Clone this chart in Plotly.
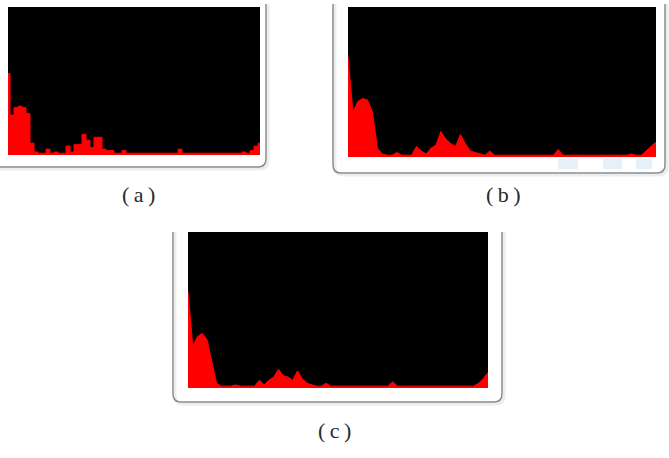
import plotly.graph_objects as go

N_BINS = 64
bins = list(range(N_BINS))

# Histogram heights (fraction of panel height)
base = 0.012

def series(peaks):
    vals = [base] * N_BINS
    for k, v in peaks.items():
        vals[k] = v
    return vals

hist_a = series({0: 0.55, 1: 0.27, 2: 0.32, 3: 0.33, 4: 0.32, 5: 0.28, 6: 0.08, 7: 0.02,
                 10: 0.04, 12: 0.02, 15: 0.06, 16: 0.02, 17: 0.07, 18: 0.07, 19: 0.14,
                 20: 0.10, 21: 0.05, 22: 0.12, 23: 0.12, 24: 0.04, 25: 0.03, 26: 0.03,
                 29: 0.03, 43: 0.04, 59: 0.02, 61: 0.03, 62: 0.06, 63: 0.08})

hist_b = series({0: 0.67, 1: 0.30, 2: 0.37, 3: 0.39, 4: 0.38, 5: 0.30, 6: 0.06, 7: 0.02,
                 10: 0.03, 14: 0.07, 15: 0.04, 16: 0.02, 17: 0.06, 18: 0.08, 19: 0.17,
                 20: 0.12, 21: 0.09, 22: 0.07, 23: 0.15, 24: 0.09, 25: 0.04, 26: 0.03,
                 27: 0.02, 29: 0.04, 43: 0.05, 58: 0.02, 61: 0.04, 62: 0.07, 63: 0.10})

hist_c = series({0: 0.62, 1: 0.27, 2: 0.33, 3: 0.35, 4: 0.31, 5: 0.18, 6: 0.03, 7: 0.012,
                 10: 0.02, 15: 0.05, 16: 0.02, 17: 0.05, 18: 0.07, 19: 0.12, 20: 0.08,
                 21: 0.07, 22: 0.05, 23: 0.11, 24: 0.06, 25: 0.03, 26: 0.02, 29: 0.03,
                 43: 0.04, 58: 0.012, 61: 0.03, 62: 0.06, 63: 0.10})

panel_labels = ["(\u2009a\u2009)", "(\u2009b\u2009)", "(\u2009c\u2009)"]

W, H = 669, 458

def fx(px):
    return px / W

def fy(py):
    return 1 - py / H

# panel placement in pixels: (x0, x1, ytop, ybottom)
panels = [(8, 260, 7, 155), (348, 656, 7, 157), (188, 488, 232, 388)]
data = [hist_a, hist_b, hist_c]
shapes_line = ["hvh", "linear", "linear"]

fig = go.Figure()
layout = dict(width=W, height=H, margin=dict(l=0, r=0, t=0, b=0),
              paper_bgcolor="white", plot_bgcolor="black", showlegend=False)

for i, ((x0, x1, yt, yb), vals) in enumerate(zip(panels, data)):
    n = "" if i == 0 else str(i + 1)
    fig.add_trace(go.Scatter(x=bins, y=vals, mode="lines", fill="tozeroy",
                             line=dict(color="#ff0000", width=1, shape=shapes_line[i]),
                             fillcolor="#ff0000", xaxis="x" + n, yaxis="y" + n,
                             hoverinfo="skip"))
    layout["xaxis" + n] = dict(domain=[fx(x0), fx(x1)], range=[0, N_BINS - 1],
                               showgrid=False, zeroline=False, showticklabels=False,
                               ticks="", anchor="y" + n, fixedrange=True)
    layout["yaxis" + n] = dict(domain=[fy(yb), fy(yt)], range=[0, 1],
                               showgrid=False, zeroline=False, showticklabels=False,
                               ticks="", anchor="x" + n, fixedrange=True)

fig.update_layout(**layout)

def frame_path(left, right, top, bottom, r=8, has_left=True):
    def P(x, y):
        return f"{fx(x):.5f},{fy(y):.5f}"
    if has_left:
        s = f"M {P(left, top)} L {P(left, bottom - r)} Q {P(left, bottom)} {P(left + r, bottom)} "
    else:
        s = f"M {P(left, bottom)} "
    s += f"L {P(right - r, bottom)} Q {P(right, bottom)} {P(right, bottom - r)} L {P(right, top)}"
    return s

shapes = []
frames = [(-2, 266, 4, 167, False), (333, 665, 4, 173, True), (173, 502, 232, 402, True)]
for (l, r_, t, b, hl) in frames:
    shapes.append(dict(type="path", xref="paper", yref="paper",
                       path=frame_path(l + 2, r_ + 2, t, b + 2, has_left=hl),
                       line=dict(color="rgba(0,0,0,0.07)", width=3)))
    shapes.append(dict(type="path", xref="paper", yref="paper",
                       path=frame_path(l, r_, t, b, has_left=hl),
                       line=dict(color="#8c8c8c", width=1.5)))

# faint blue artefacts under panel (b)
for (bx0, bx1) in [(558, 578), (603, 622), (636, 652)]:
    shapes.append(dict(type="rect", xref="paper", yref="paper",
                       x0=fx(bx0), x1=fx(bx1), y0=fy(169), y1=fy(159),
                       fillcolor="#e6f0f9", line=dict(width=0), layer="above"))

fig.update_layout(shapes=shapes)

label_pos = [(138, 195), (503, 195), (334, 430)]
for txt, (lx, ly) in zip(panel_labels, label_pos):
    fig.add_annotation(x=fx(lx), y=fy(ly), xref="paper", yref="paper", text=txt,
                       showarrow=False, xanchor="center", yanchor="middle",
                       font=dict(family="Liberation Serif", size=22, color="#2a2a2a"))

fig.write_html("out.html")
